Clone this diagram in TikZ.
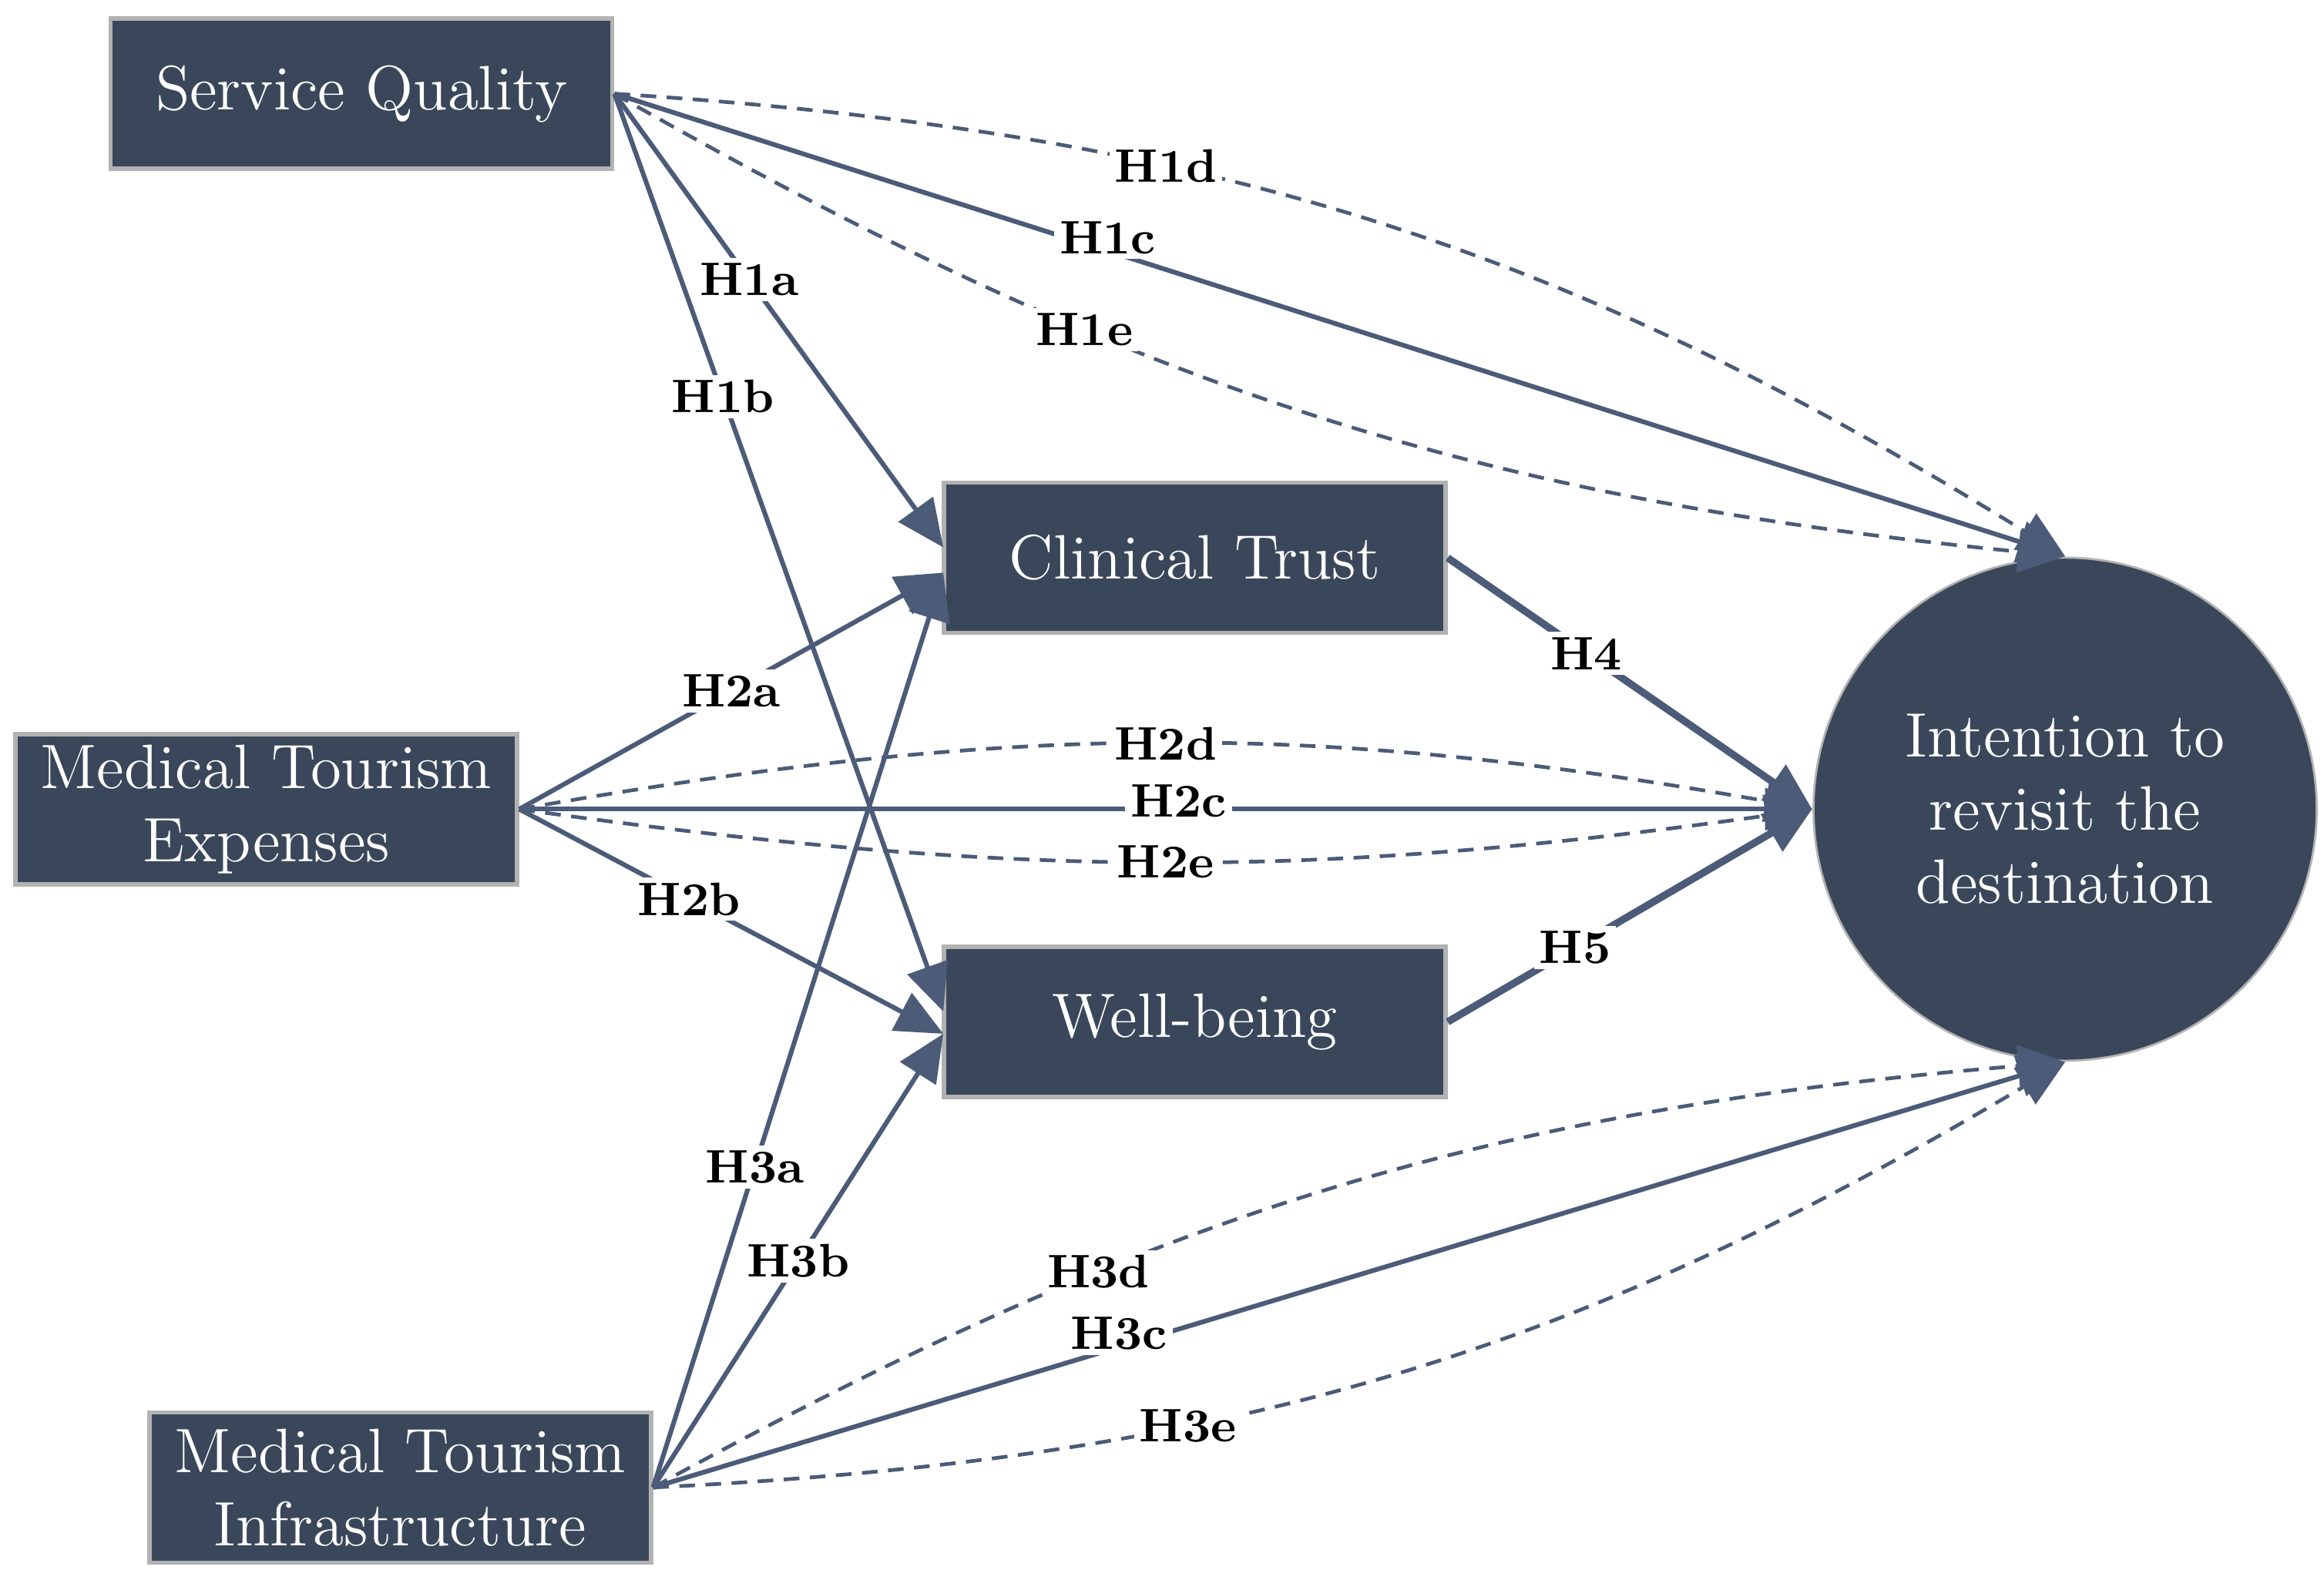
\documentclass[tikz,border=0pt]{standalone}
\usetikzlibrary{arrows.meta}
\definecolor{box}{HTML}{3A475A}
\definecolor{ln}{HTML}{4B5B78}
\begin{document}
\begin{tikzpicture}[x=0.01cm,y=-0.01cm,
 bx/.style={draw=gray!60,line width=0.8pt,fill=box,text=white,minimum width=3.37cm,minimum height=1.01cm,align=center,font=\large,inner sep=0pt},
 e/.style={ln,line width=0.9pt,-{Triangle[length=9pt,width=8pt]}},
 d/.style={e,densely dashed,line width=0.7pt},
 lb/.style={font=\small\bfseries,fill=white,inner sep=1pt,text=black}]
\useasboundingbox (0,0) rectangle (1562,1055);
\node[bx] (sq) at (243,63) {Service Quality};
\node[bx] (ct) at (803,375) {Clinical Trust};
\node[bx] (mte) at (179,544) {Medical Tourism\\Expenses};
\node[bx] (wb) at (803,687) {Well-being};
\node[bx] (mti) at (269,1000) {Medical Tourism\\Infrastructure};
\node[circle,fill=box,draw=gray!60,minimum size=3.38cm,text=white,font=\large,align=center] (iv) at (1388,544) {Intention to\\revisit the\\destination};
\coordinate (cti) at (634,368); \coordinate (ctj) at (634,385);
\coordinate (wbi) at (634,680); \coordinate (wbj) at (634,695);
\coordinate (top) at (1388,374); \coordinate (left) at (1218,544); \coordinate (bot) at (1388,714);
\draw[e] (sq.east) -- node[lb,pos=.41]{H1a} (cti);
\draw[e] (sq.east) -- node[lb,pos=.33]{H1b} (wbi);
\draw[e] (sq.east) -- node[lb,pos=.34,above=-2pt]{H1c} (top);
\draw[d] (sq.east) to[bend left=14] node[lb,pos=.35]{H1d} (top);
\draw[d] (sq.east) to[bend right=12] node[lb,pos=.33]{H1e} (top);
\draw[e] (mte.east) -- node[lb,pos=.5]{H2a} (ctj);
\draw[e] (mte.east) -- node[lb,pos=.4]{H2b} (wbj);
\draw[e] (mte.east) -- node[lb,pos=.51,above=-3pt]{H2c} (left);
\draw[d] (mte.east) to[bend left=10] node[lb,pos=.5]{H2d} (left);
\draw[d] (mte.east) to[bend right=8] node[lb,pos=.5]{H2e} (left);
\draw[e] (mti.east) -- node[lb,pos=.35]{H3a} (ctj);
\draw[e] (mti.east) -- node[lb,pos=.5]{H3b} (wbj);
\draw[e] (mti.east) -- node[lb,pos=.33,above=-2pt]{H3c} (bot);
\draw[d] (mti.east) to[bend left=12] node[lb,pos=.32]{H3d} (bot);
\draw[d] (mti.east) to[bend right=14] node[lb,pos=.35]{H3e} (bot);
\draw[e,line width=1.4pt] (ct.east) -- node[lb,pos=.38]{H4} (left);
\draw[e,line width=1.4pt] (wb.east) -- node[lb,pos=.35]{H5} (left);
\end{tikzpicture}
\end{document}
